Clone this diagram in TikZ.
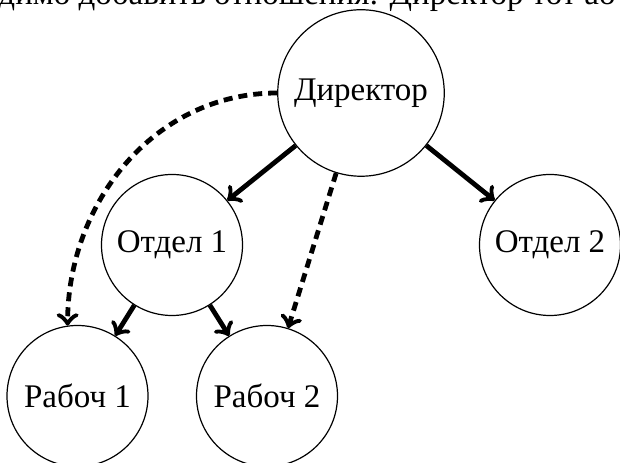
\documentclass[tikz,border=0pt]{standalone}
\usepackage{fontspec}
\setmainfont{Liberation Serif}
\tikzset{
  person/.style={circle, draw, line width=0.4pt, inner sep=0pt, font=\fontsize{11}{13}\selectfont},
  small/.style={person, minimum size=47pt},
  big/.style={person, minimum size=55.5pt},
  solidarrow/.style={->, ultra thick},
  dasharrow/.style={->, ultra thick, densely dashed},
  notetext/.style={anchor=base west, inner sep=0pt, font=\fontsize{11}{13}\selectfont},
}
\begin{document}
\begin{tikzpicture}[x=0.33333pt, y=0.33333pt]
\useasboundingbox (0,0) rectangle (620,-463);
\clip (0,0) rectangle (620,-463);
\node[notetext] (note) at (389,-5) {\llap{Необходимо добавить отношения: }Директор тот ао};
\node[big] (dir) at (361,-93) {Директор};
\node[small] (o1) at (172,-245) {Отдел 1};
\node[small] (o2) at (550,-245) {Отдел 2};
\node[small] (r1) at (77.5,-396) {Рабоч 1};
\node[small] (r2) at (267,-396) {Рабоч 2};
\draw[solidarrow] (dir) -- (o1);
\draw[solidarrow] (dir) -- (o2);
\draw[solidarrow] (o1) -- (r1);
\draw[solidarrow] (o1) -- (r2);
\draw[dasharrow] (dir.west) to[out=180, in=90] (r1.98);
\draw[dasharrow] (dir) -- (r2);
\end{tikzpicture}
\end{document}
